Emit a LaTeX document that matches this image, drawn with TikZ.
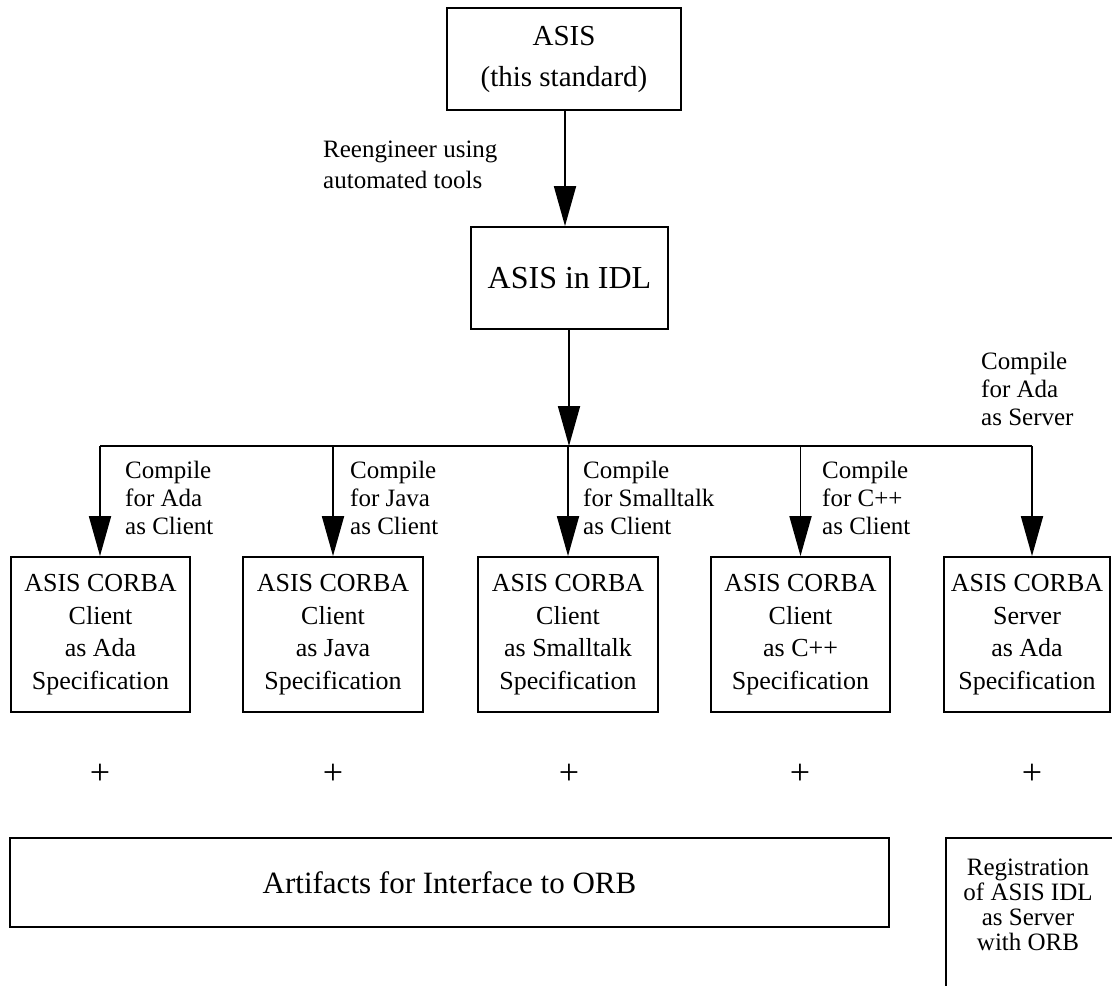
\documentclass[tikz,border=0pt]{standalone}
\usepackage{fontspec}
\setmainfont{Liberation Serif}
\usetikzlibrary{arrows.meta}
\begin{document}
\begin{tikzpicture}[x=1pt,y=-1pt,
  box/.style={draw, line width=1.8pt, inner sep=0pt, align=center},
  specbox/.style={box, minimum height=155pt, font=\fontsize{26}{32.5}\selectfont},
  conn/.style={line width=1.8pt},
  arr/.style={conn, -{Triangle[width=22pt,length=40pt]}},
  edgelbl/.style={inner sep=0pt, anchor=north west, align=left, font=\fontsize{25}{28}\selectfont},
  plussign/.style={inner sep=0pt, font=\fontsize{36}{40}\selectfont}
]
\clip (0,0) rectangle (1112,986);
\fill[white] (0,0) rectangle (1112,986);

% source and intermediate form
\node[box, minimum width=234pt, minimum height=102pt, font=\fontsize{29}{41}\selectfont]
  (asis) at (564,59) {ASIS\\(this standard)};
\node[box, minimum width=197pt, minimum height=102pt, font=\fontsize{32}{38}\selectfont]
  (idl) at (569.5,278) {ASIS in IDL};
\node[edgelbl, font=\fontsize{25}{31}\selectfont] (reeng) at (323,141)
  {Reengineer using\\automated tools};

% generated specifications
\node[specbox, minimum width=179pt] (b1) at (100.5,634.5) {ASIS CORBA\\Client\\as Ada\\Specification};
\node[specbox, minimum width=180pt] (b2) at (333,634.5) {ASIS CORBA\\Client\\as Java\\Specification};
\node[specbox, minimum width=180pt] (b3) at (568,634.5) {ASIS CORBA\\Client\\as Smalltalk\\Specification};
\node[specbox, minimum width=179pt] (b4) at (800.5,634.5) {ASIS CORBA\\Client\\as C++\\Specification};
\node[specbox, minimum width=166pt] (b5) at (1027,634.5) {ASIS CORBA\\Server\\as Ada\\Specification};

% plus signs
\node[plussign] (p1) at (100,774) {+};
\node[plussign] (p2) at (333,774) {+};
\node[plussign] (p3) at (569,774) {+};
\node[plussign] (p4) at (800,774) {+};
\node[plussign] (p5) at (1032,774) {+};

% ORB artifacts
\node[box, minimum width=879pt, minimum height=89pt, font=\fontsize{31}{36}\selectfont]
  (art) at (449.5,882.5) {Artifacts for Interface to ORB};
\node[inner sep=0pt, align=center, font=\fontsize{25}{25}\selectfont]
  (reg) at (1028,905) {Registration\\of ASIS IDL\\as Server\\with ORB};
\coordinate (regTR) at (1120,838);
\coordinate (regBL) at (946,995);
\draw[conn] (regTR) -| (regBL);

% connectors
\coordinate (busL) at (100,446);
\coordinate (busM) at (569,446);
\coordinate (busR) at (1032,446);
\draw[arr] (asis.south -| 565,0) -- (idl.north -| 565,0);
\draw[arr] (idl.south -| busM) -- (busM);
\draw[conn] (busL) -- (busR);
\draw[arr] (busL) -- (busL |- b1.north);
\draw[arr] (b2.north |- busL) -- (b2.north);
\draw[arr] (b3.north |- busL) -- (b3.north);
\draw[arr] (b4.north |- busL) -- (b4.north);
\draw[arr] (busR) -- (busR |- b5.north);

% edge labels
\node[edgelbl] (l1) at (125,461) {Compile\\for Ada\\as Client};
\node[edgelbl] (l2) at (350,461) {Compile\\for Java\\as Client};
\node[edgelbl] (l3) at (583,461) {Compile\\for Smalltalk\\as Client};
\node[edgelbl] (l4) at (822,461) {Compile\\for C++\\as Client};
\node[edgelbl] (l5) at (981,352) {Compile\\for Ada\\as Server};
\end{tikzpicture}
\end{document}
